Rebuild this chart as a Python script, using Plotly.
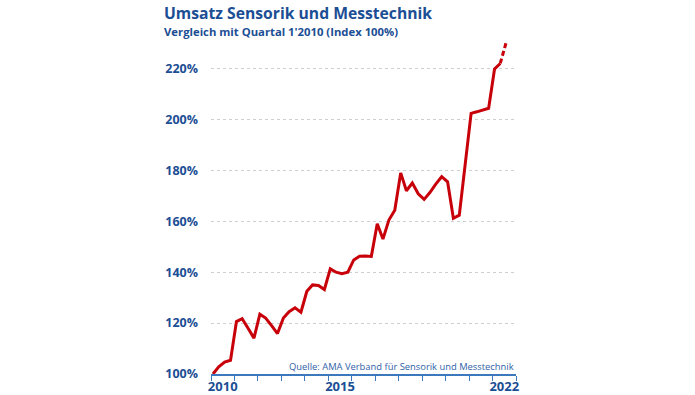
import plotly.graph_objects as go

# ---- data ----
years = [2010 + i // 4 for i in range(51)]
quarters = [i % 4 + 1 for i in range(51)]
values = [
    100.0, 102.8, 104.7, 105.4,   # 2010
    120.6, 121.7, 118.0, 114.1,   # 2011
    123.5, 122.0, 119.0, 115.9,   # 2012
    122.0, 124.5, 126.0, 124.3,   # 2013
    132.5, 135.0, 134.8, 133.2,   # 2014
    141.3, 140.0, 139.4, 140.0,   # 2015
    144.8, 146.3, 146.4, 146.2,   # 2016
    159.0, 153.0, 160.5, 164.3,   # 2017
    179.0, 172.0, 175.0, 170.8,   # 2018
    168.6, 171.3, 174.6, 177.5,   # 2019
    175.5, 161.2, 162.4, 182.0,   # 2020
    202.4, 203.0, 203.7, 204.4,   # 2021
    219.8, 222.0, 230.3,          # 2022
]
n_solid = 50  # last point (Q3 2022) is an estimate -> dashed
ytick_vals = [100, 120, 140, 160, 180, 200, 220]
ytick_text = [f"{v}%" for v in ytick_vals]
xtick_years = [2010, 2015, 2022]

title = "Umsatz Sensorik und Messtechnik"
subtitle = "Vergleich mit Quartal 1'2010 (Index 100%)"
source = "Quelle: AMA Verband für Sensorik und Messtechnik"

# quarter dates (plotted one month into each quarter)
dates = [f"{y}-{3 * (q - 1) + 2:02d}-01" for y, q in zip(years, quarters)]

RED = "#C8000A"
BLUE = "#1B4E94"
AXBLUE = "#3C78BE"
FONT = "Open Sans"

fig = go.Figure()
fig.add_trace(go.Scatter(
    x=dates[:n_solid], y=values[:n_solid], mode="lines",
    line=dict(color=RED, width=3), hoverinfo="skip", showlegend=False))
fig.add_trace(go.Scatter(
    x=dates[n_solid - 1:], y=values[n_solid - 1:], mode="lines",
    line=dict(color=RED, width=3, dash="5px,3px"), hoverinfo="skip", showlegend=False))

W, H = 695, 395
L, R, T, B = 211, 179, 38, 21
pw, ph = W - L - R, H - T - B

def px_x(p):
    return (p - L) / pw

def px_y(p):
    return (H - B - p) / ph

fig.update_layout(
    width=W, height=H,
    margin=dict(l=L, r=R, t=T, b=B, autoexpand=False),
    paper_bgcolor="white", plot_bgcolor="white",
    font=dict(family=FONT, color=BLUE),
    xaxis=dict(
        type="date",
        range=["2010-01-01", "2023-01-01"],
        tickvals=[f"{y}-07-02" for y in xtick_years],
        ticktext=[str(y) for y in xtick_years],
        ticks="", showgrid=False, zeroline=False,
        showline=True, linecolor=AXBLUE, linewidth=1.5,
        tickfont=dict(family=FONT, size=13, color=BLUE, weight="bold"),
        ticklabelstandoff=0,
        minor=dict(ticks="outside", ticklen=5, tickcolor=AXBLUE, tickwidth=1,
                   dtick="M12", tick0="2010-01-01", showgrid=False),
    ),
    yaxis=dict(
        range=[100, 232],
        tickvals=ytick_vals, ticktext=ytick_text,
        showgrid=True, gridcolor="#CFCFCF", gridwidth=1, griddash="dot",
        zeroline=False, showline=False, ticks="",
        tickfont=dict(family=FONT, size=12.5, color=BLUE, weight="bold"),
        ticklabelstandoff=12,
    ),
    annotations=[
        dict(text=f"<b>{title}</b>", xref="paper", yref="paper",
             x=px_x(162), y=px_y(13), xanchor="left", yanchor="middle",
             showarrow=False, font=dict(family=FONT, size=15.7, color=BLUE)),
        dict(text=f"<b>{subtitle}</b>", xref="paper", yref="paper",
             x=px_x(162), y=px_y(31), xanchor="left", yanchor="middle",
             showarrow=False, font=dict(family=FONT, size=11.3, color=BLUE)),
        dict(text=source, xref="paper", yref="paper",
             x=px_x(516), y=px_y(366), xanchor="right", yanchor="middle",
             showarrow=False, font=dict(family=FONT, size=9.4, color="#2F62A8")),
    ],
)

# remove the default 8px page margin so the figure fills the window exactly
fig.write_html("out.html",
               config={"displayModeBar": False},
               post_script="document.body.style.margin='0';document.body.style.overflow='hidden';")
